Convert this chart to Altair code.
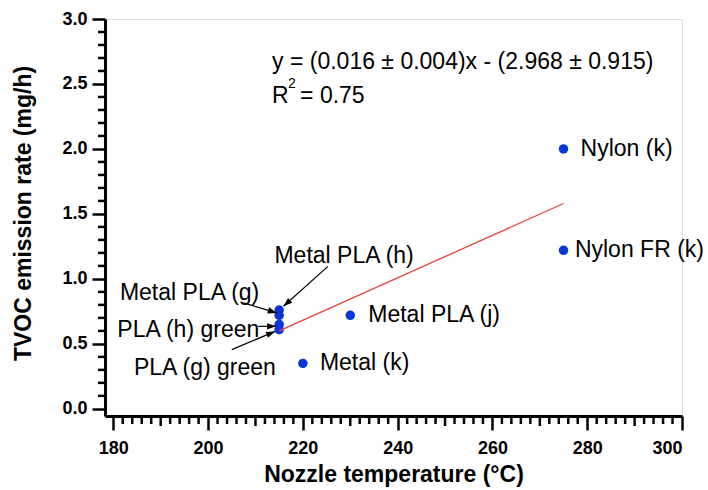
import math
import altair as alt
import pandas as pd

# ---------------- data ----------------
names = ["Nylon (k)", "Nylon FR (k)", "Metal PLA (j)", "Metal (k)",
         "Metal PLA (h)", "Metal PLA (g)", "PLA (h) green", "PLA (g) green"]
temps = [275, 275, 230, 220, 215, 215, 215, 215]
rates = [2.00, 1.22, 0.72, 0.35, 0.76, 0.72, 0.65, 0.61]

fit_x = [215, 275]
fit_y = [0.60, 1.58]

label_text = ["Nylon (k)", "Nylon FR (k)", "Metal PLA (j)", "Metal (k)",
              "Metal PLA (h)", "Metal PLA (g)", "PLA (h) green", "PLA (g) green"]
label_x = [278.6, 277.4, 233.8, 223.6, 214.0, 210.8, 210.8, 214.3]
label_y = [2.00, 1.22, 0.72, 0.35, 1.18, 0.894, 0.61, 0.314]
label_align = ["left", "left", "left", "left", "left", "right", "right", "right"]

arrow_x0 = [225.3, 207.45, 210.6, 205.0]
arrow_y0 = [1.096, 0.815, 0.635, 0.456]
arrow_x1 = [215.9, 214.5, 214.35, 214.14]
arrow_y1 = [0.789, 0.738, 0.635, 0.596]

eq_text = "y = (0.016 \u00b1 0.004)x - (2.968 \u00b1 0.915)"
r2_text = "= 0.75"
eq_x = 213.5
eq_y = 2.67
r2_y = 2.41

x_ticks = [180, 200, 220, 240, 260, 280, 300]
y_ticks = [0.0, 0.5, 1.0, 1.5, 2.0, 2.5, 3.0]

# ---------------- layout ----------------
W, H = 577, 397
XDOM = [178.25, 300]
YDOM = [-0.055, 3.0]
FONT = "Liberation Sans"
BLUE = "#0a35d8"

xs = alt.Scale(domain=XDOM, nice=False, zero=False)
ys = alt.Scale(domain=YDOM, nice=False, zero=False)


def px(v):
    return (v - XDOM[0]) / (XDOM[1] - XDOM[0]) * W


def py(v):
    return (YDOM[1] - v) / (YDOM[1] - YDOM[0]) * H


pts = pd.DataFrame({"name": names, "t": temps, "r": rates})
fit = pd.DataFrame({"t": fit_x, "r": fit_y})
labels = pd.DataFrame({"text": label_text, "x": label_x, "y": label_y, "align": label_align})
arrows = pd.DataFrame({"x0": arrow_x0, "y0": arrow_y0, "x1": arrow_x1, "y1": arrow_y1})
arrows["ang"] = [
    math.degrees(math.atan2(px(b) - px(a), -(py(d) - py(c)))) % 360
    for a, b, c, d in zip(arrow_x0, arrow_x1, arrow_y0, arrow_y1)
]

minor_x = pd.DataFrame({"v": [v for v in range(182, 300, 2) if v % 10 != 0]})
mid_x = pd.DataFrame({"v": [v for v in range(190, 300, 20)]})
minor_y = pd.DataFrame({"v": [i / 10 for i in range(0, 31) if i % 5 != 0]})

TW = 2.5
axis_style = dict(grid=False, domainColor="black", domainWidth=3, tickColor="black", tickWidth=TW,
                  labelFont=FONT, labelFontSize=18, labelFontWeight="bold", labelColor="black",
                  titleFont=FONT, titleFontSize=23, titleFontWeight="bold", titleColor="black")

x_axis = alt.Axis(values=x_ticks, format="d", tickSize=14, labelPadding=9,
                  title="Nozzle temperature (\u00b0C)", titleBaseline="middle", titleY=58,
                  **axis_style)
y_axis = alt.Axis(values=y_ticks, format=".1f", tickSize=13, labelPadding=5,
                  title="TVOC emission rate (mg/h)", titleAngle=270,
                  titleAlign="center", titleBaseline="middle", titleX=-82, titleY=194,
                  **axis_style)

base_pts = alt.Chart(pts).mark_circle(size=90, color=BLUE, opacity=1).encode(
    x=alt.X("t:Q", scale=xs, axis=x_axis),
    y=alt.Y("r:Q", scale=ys, axis=y_axis),
)

minor_xr = alt.Chart(minor_x).mark_rule(color="black", strokeWidth=TW).encode(
    x=alt.X("v:Q", scale=xs, axis=x_axis), y=alt.value(H), y2=alt.value(H + 8))
mid_xr = alt.Chart(mid_x).mark_rule(color="black", strokeWidth=TW).encode(
    x=alt.X("v:Q", scale=xs, axis=x_axis), y=alt.value(H), y2=alt.value(H + 10))
minor_yr = alt.Chart(minor_y).mark_rule(color="black", strokeWidth=TW).encode(
    y=alt.Y("v:Q", scale=ys, axis=y_axis), x=alt.value(0), x2=alt.value(-7))

fit_line = alt.Chart(fit).mark_line(color="#e8413c", strokeWidth=1.3).encode(
    x=alt.X("t:Q", scale=xs, axis=x_axis), y=alt.Y("r:Q", scale=ys, axis=y_axis))

arrow_lines = alt.Chart(arrows).mark_rule(color="black", strokeWidth=1.2).encode(
    x=alt.X("x0:Q", scale=xs, axis=x_axis), y=alt.Y("y0:Q", scale=ys, axis=y_axis),
    x2="x1:Q", y2="y1:Q")
arrow_heads = alt.Chart(arrows).mark_point(
    shape="M0,0L-0.7,2L0.7,2Z", filled=True, color="black", size=81, opacity=1, strokeWidth=0
).encode(x=alt.X("x1:Q", scale=xs, axis=x_axis), y=alt.Y("y1:Q", scale=ys, axis=y_axis),
         angle=alt.Angle("ang:Q", scale=None))

lab_left = alt.Chart(labels).transform_filter(alt.datum.align == "left").mark_text(
    align="left", baseline="middle", font=FONT, fontSize=23, color="black"
).encode(x=alt.X("x:Q", scale=xs, axis=x_axis), y=alt.Y("y:Q", scale=ys, axis=y_axis), text="text:N")
lab_right = alt.Chart(labels).transform_filter(alt.datum.align == "right").mark_text(
    align="right", baseline="middle", font=FONT, fontSize=23, color="black"
).encode(x=alt.X("x:Q", scale=xs, axis=x_axis), y=alt.Y("y:Q", scale=ys, axis=y_axis), text="text:N")

eq_df = pd.DataFrame({"x": [eq_x], "y": [eq_y], "r2y": [r2_y], "eq": [eq_text], "r2": [r2_text]})
ex = alt.X("x:Q", scale=xs, axis=x_axis)
eq1 = alt.Chart(eq_df).mark_text(align="left", baseline="middle", font=FONT, fontSize=23,
                                 color="black").encode(
    x=ex, y=alt.Y("y:Q", scale=ys, axis=y_axis), text="eq:N")
eqR = alt.Chart(eq_df).mark_text(align="left", baseline="middle", font=FONT, fontSize=23,
                                 color="black").encode(
    x=ex, y=alt.Y("r2y:Q", scale=ys, axis=y_axis), text=alt.value("R"))
eq2 = alt.Chart(eq_df).mark_text(align="left", baseline="middle", font=FONT, fontSize=14,
                                 color="black", dx=16, dy=-12).encode(
    x=ex, y=alt.Y("r2y:Q", scale=ys, axis=y_axis), text=alt.value("2"))
eq3 = alt.Chart(eq_df).mark_text(align="left", baseline="middle", font=FONT, fontSize=23,
                                 color="black", dx=28).encode(
    x=ex, y=alt.Y("r2y:Q", scale=ys, axis=y_axis), text="r2:N")

chart = alt.layer(
    base_pts, minor_xr, mid_xr, minor_yr, fit_line, arrow_lines, arrow_heads,
    lab_left, lab_right, eq1, eqR, eq2, eq3,
).properties(
    width=W, height=H,
    autosize=alt.AutoSizeParams(type="none"),
    padding={"left": 105, "top": 19, "right": 26, "bottom": 74},
).configure_view(stroke=None).configure(background="white")

chart.save("out.html", embed_options={"renderer": "svg", "actions": False})
